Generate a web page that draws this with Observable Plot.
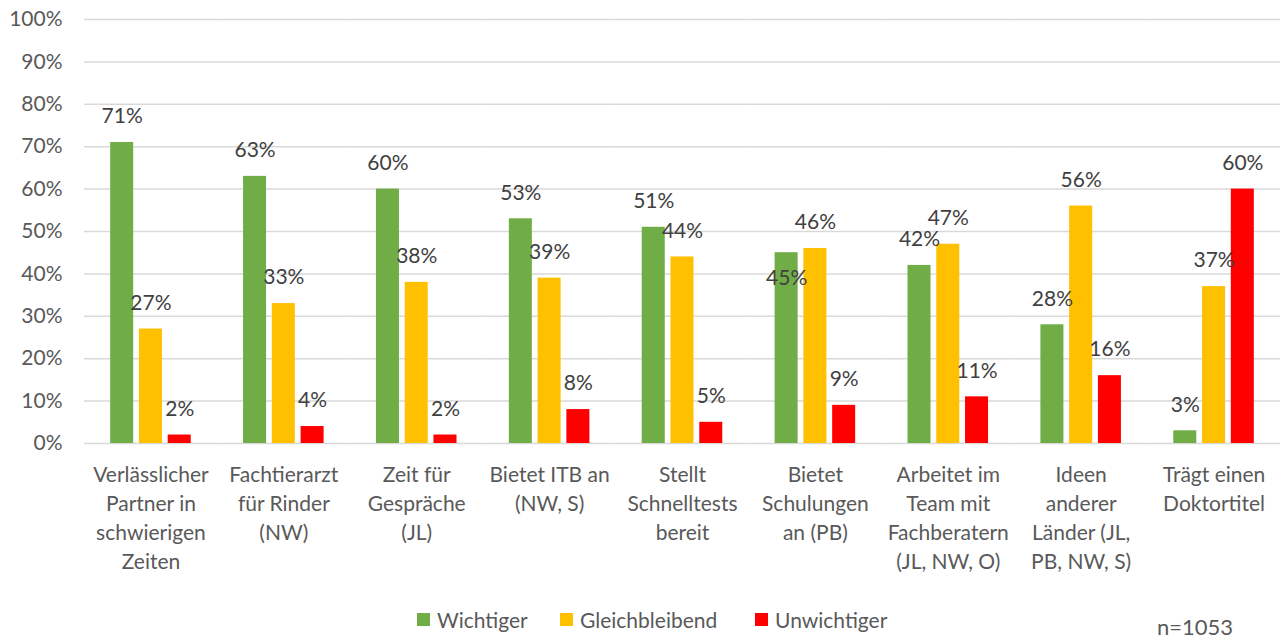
<!DOCTYPE html>
<html>
<head>
<meta charset="utf-8">
<script src="https://cdn.jsdelivr.net/npm/d3@7"></script>
<script src="https://cdn.jsdelivr.net/npm/@observablehq/plot@0.6"></script>
<style>
  html, body { margin: 0; padding: 0; background: #fff; }
  body { width: 1288px; height: 639px; overflow: hidden; font-family: Lato, "Open Sans", sans-serif; }
  #wrap { position: relative; width: 1288px; height: 639px; }
  #chart svg { display: block; }
  #legend { position: absolute; left: 417px; top: 605px; height: 28px; display: flex; align-items: center; font-size: 21px; color: #595959; }
  .item { display: flex; align-items: center; }
  .item:nth-child(1) { width: 143px; }
  .item:nth-child(2) { width: 195px; }
  .sw { width: 13px; height: 13px; margin-right: 7px; flex: none; }
  #n { position: absolute; left: 1157px; top: 613px; font-size: 22px; color: #595959; }
</style>
</head>
<body>
<div id="wrap"><div id="chart"></div><div id="legend"></div><div id="n">n=1053</div></div>
<script>
const categories = [
  "Verlässlicher\nPartner in\nschwierigen\nZeiten",
  "Fachtierarzt\nfür Rinder\n(NW)",
  "Zeit für\nGespräche\n(JL)",
  "Bietet ITB an\n(NW, S)",
  "Stellt\nSchnelltests\nbereit",
  "Bietet\nSchulungen\nan (PB)",
  "Arbeitet im\nTeam mit\nFachberatern\n(JL, NW, O)",
  "Ideen\nanderer\nLänder (JL,\nPB, NW, S)",
  "Trägt einen\nDoktortitel"
];
const series = ["Wichtiger", "Gleichbleibend", "Unwichtiger"];
const wichtiger      = [71, 63, 60, 53, 51, 45, 42, 28, 3];
const gleichbleibend = [27, 33, 38, 39, 44, 46, 47, 56, 37];
const unwichtiger    = [2, 4, 2, 8, 5, 9, 11, 16, 60];
const colors = ["#70AD47", "#FFC000", "#FF0000"];
const yTicks = [0, 10, 20, 30, 40, 50, 60, 70, 80, 90, 100];

const valuesBySeries = [wichtiger, gleichbleibend, unwichtiger];
const data = [];
categories.forEach((c, i) => {
  series.forEach((s, j) => data.push({category: c, series: s, value: valuesBySeries[j][i]}));
});

// Excel nudged one label below the bar top to avoid overlapping its neighbour
const isNudged = d => d.series === "Wichtiger" && d.category.startsWith("Bietet\nSchulungen");

const FS = 21;
const chart = Plot.plot({
  width: 1288,
  height: 600,
  marginLeft: 84,
  marginRight: 8,
  marginTop: 19,
  marginBottom: 157,
  style: {fontFamily: "Lato, 'Open Sans', sans-serif", background: "#fff"},
  fx: {domain: categories, padding: 0, round: false, label: null},
  x: {domain: series, paddingInner: 0.2, paddingOuter: 0.91, round: false, axis: null},
  y: {domain: [0, 100], label: null},
  color: {domain: series, range: colors},
  marks: [
    Plot.ruleY(yTicks, {stroke: "#d9d9d9", strokeWidth: 1.5}),
    Plot.axisY({ticks: yTicks, tickFormat: d => d + "%", tickSize: 0, tickPadding: 22, fontSize: FS, fill: "#595959", label: null}),
    Plot.axisFx({anchor: "bottom", tickSize: 0, tickPadding: 18, fontSize: FS, lineHeight: 1.38, fill: "#595959", label: null, tickFormat: d => d}),
    Plot.barY(data, {fx: "category", x: "series", y: "value", fill: "series"}),
    Plot.text(data.filter(d => !isNudged(d)), {
      fx: "category", x: "series", y: "value", text: d => d.value + "%",
      dy: -26, fontSize: FS, fill: "#404040"
    }),
    Plot.text(data.filter(isNudged), {
      fx: "category", x: "series", y: "value", text: d => d.value + "%",
      dy: 26, fontSize: FS, fill: "#404040"
    })
  ]
});
document.getElementById("chart").appendChild(chart);

const legend = document.getElementById("legend");
series.forEach((s, i) => {
  const item = document.createElement("div");
  item.className = "item";
  const sw = document.createElement("span");
  sw.className = "sw";
  sw.style.background = colors[i];
  const t = document.createElement("span");
  t.textContent = s;
  item.appendChild(sw);
  item.appendChild(t);
  legend.appendChild(item);
});
</script>
</body>
</html>
